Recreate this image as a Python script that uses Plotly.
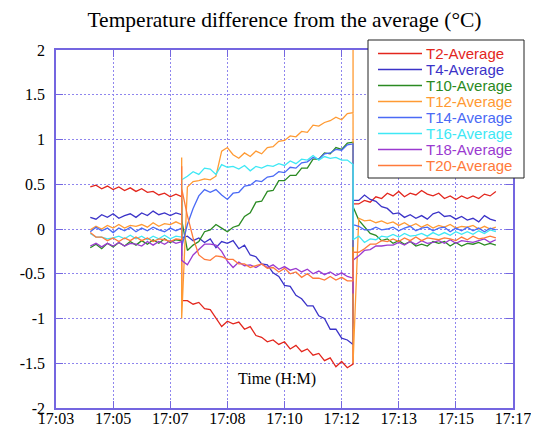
import plotly.graph_objects as go

# time axis in seconds after 17:03 (repeated points mark the two vertical jumps)
t_p1 = list(range(60, 221, 10))
t_j1 = [220, 220]
t_p2 = list(range(230, 521, 10))
t_j2 = [520, 520]
t_p3 = list(range(530, 771, 10))
t = t_p1 + t_j1 + t_p2 + t_j2 + t_p3

tick_vals = [0, 100, 200, 300, 400, 500, 600, 700, 800]
tick_text = ["17:03", "17:05", "17:07", "17:08", "17:10", "17:12", "17:13", "17:15", "17:17"]

names = ["T2-Average", "T4-Average", "T10-Average", "T12-Average",
         "T14-Average", "T16-Average", "T18-Average", "T20-Average"]
colors = ["#e3261d", "#3b33c8", "#2a8a22", "#ff9a33",
          "#4a6af5", "#3ee8f5", "#9a3ad0", "#ff7a3a"]

T2_p1 = [0.47,0.49,0.45,0.48,0.44,0.47,0.43,0.46,0.42,0.45,0.41,0.42,0.38,0.40,0.36,0.39,0.36]
T2_j1 = [-0.78,-0.80]
T2_p2 = [-0.80,-0.84,-0.82,-0.89,-0.90,-1.00,-1.09,-1.03,-1.06,-1.04,-1.12,-1.09,-1.19,-1.21,-1.26,
         -1.24,-1.29,-1.26,-1.34,-1.30,-1.37,-1.34,-1.41,-1.39,-1.47,-1.44,-1.54,-1.48,-1.55,-1.51]
T2_j2 = [0.30,0.28]
T2_p3 = [0.28,0.32,0.30,0.36,0.34,0.40,0.37,0.42,0.36,0.40,0.38,0.43,0.39,0.37,0.40,0.34,0.37,0.33,
         0.37,0.34,0.37,0.34,0.39,0.37,0.42]

T4_p1 = [0.13,0.11,0.16,0.13,0.17,0.12,0.15,0.17,0.13,0.18,0.15,0.20,0.16,0.18,0.15,0.18,0.16]
T4_j1 = [0.05,-0.10]
T4_p2 = [-0.08,-0.13,-0.10,-0.15,-0.11,-0.21,-0.14,-0.16,-0.13,-0.22,-0.18,-0.29,-0.31,-0.39,-0.40,
         -0.49,-0.53,-0.63,-0.64,-0.74,-0.78,-0.86,-0.86,-0.97,-1.00,-1.12,-1.12,-1.22,-1.24,-1.29]
T4_j2 = [0.30,0.32]
T4_p3 = [0.32,0.38,0.33,0.31,0.25,0.23,0.17,0.18,0.13,0.16,0.12,0.15,0.11,0.17,0.19,0.14,0.15,0.11,
         0.14,0.10,0.12,0.08,0.15,0.11,0.09]

T10_p1 = [-0.21,-0.17,-0.22,-0.16,-0.20,-0.15,-0.19,-0.14,-0.18,-0.13,-0.17,-0.12,-0.16,-0.11,-0.15,-0.12,-0.13]
T10_j1 = [0.32,0.10]
T10_p2 = [-0.24,-0.18,-0.14,-0.03,-0.01,0.05,0.01,-0.03,0.02,0.04,0.14,0.18,0.30,0.31,0.42,
          0.43,0.54,0.54,0.60,0.60,0.68,0.68,0.78,0.78,0.85,0.84,0.91,0.89,0.96,0.97]
T10_j2 = [-0.38,0.25]
T10_p3 = [0.10,0.03,-0.05,-0.07,-0.13,-0.11,-0.16,-0.13,-0.17,-0.14,-0.19,-0.17,-0.19,-0.14,-0.16,
          -0.14,-0.19,-0.15,-0.19,-0.16,-0.17,-0.15,-0.18,-0.16,-0.18]

T12_p1 = [-0.01,0.03,0.00,0.04,0.01,0.05,0.01,0.04,0.03,0.05,0.02,0.07,0.03,0.06,0.05,0.08,0.05]
T12_j1 = [0.80,-1.00]
T12_p2 = [0.47,0.53,0.54,0.56,0.55,0.59,0.87,0.91,0.83,0.79,0.85,0.81,0.87,0.84,0.91,
          0.92,0.98,0.99,1.04,1.03,1.09,1.08,1.16,1.15,1.19,1.21,1.25,1.22,1.29,1.30]
T12_j2 = [2.00,-1.50]
T12_p3 = [0.12,0.09,0.10,0.07,0.09,0.06,0.08,0.04,0.07,0.03,0.06,0.02,0.05,0.01,0.04,0.02,0.05,0.01,
          0.03,0.02,0.04,0.00,0.03,0.00,0.02]

T14_p1 = [-0.03,0.02,-0.02,0.01,-0.04,0.01,-0.02,0.02,-0.03,0.01,-0.02,0.02,-0.01,-0.03,0.01,-0.02,0.01]
T14_j1 = [-0.30,-0.20]
T14_p2 = [0.05,0.23,0.37,0.44,0.41,0.44,0.38,0.33,0.40,0.41,0.48,0.49,0.54,0.53,0.58,
          0.59,0.64,0.63,0.69,0.68,0.74,0.75,0.80,0.78,0.84,0.85,0.89,0.88,0.94,0.95]
T14_j2 = [-0.20,0.05]
T14_p3 = [0.03,-0.01,-0.01,0.02,-0.01,0.00,0.02,-0.02,0.01,0.03,-0.02,0.01,0.02,-0.02,0.01,0.02,-0.03,
          0.01,-0.02,0.02,-0.02,0.01,-0.03,0.01,-0.01]

T16_p1 = [-0.05,-0.09,-0.09,-0.11,-0.10,-0.08,-0.11,-0.07,-0.11,-0.08,-0.12,-0.08,-0.11,-0.07,-0.11,-0.08,-0.09]
T16_j1 = [0.20,0.55]
T16_p2 = [0.59,0.64,0.61,0.68,0.67,0.61,0.72,0.69,0.70,0.67,0.71,0.65,0.70,0.68,0.71,
          0.70,0.73,0.71,0.76,0.73,0.78,0.77,0.82,0.77,0.81,0.79,0.80,0.77,0.77,0.72]
T16_j2 = [0.00,-0.12]
T16_p3 = [-0.08,-0.15,-0.11,-0.12,-0.08,-0.09,-0.06,-0.09,-0.05,-0.08,-0.07,-0.05,-0.08,-0.04,-0.07,
          -0.04,-0.07,-0.03,-0.06,-0.03,-0.06,-0.02,-0.05,-0.01,-0.03]

T18_p1 = [-0.19,-0.16,-0.20,-0.16,-0.19,-0.15,-0.19,-0.16,-0.17,-0.19,-0.14,-0.18,-0.14,-0.17,-0.13,-0.16,-0.14]
T18_j1 = [-0.25,-0.35]
T18_p2 = [-0.40,-0.29,-0.23,-0.17,-0.17,-0.18,-0.25,-0.36,-0.43,-0.37,-0.41,-0.40,-0.43,-0.39,-0.43,
          -0.40,-0.45,-0.42,-0.46,-0.44,-0.48,-0.45,-0.50,-0.47,-0.51,-0.48,-0.52,-0.49,-0.53,-0.55]
T18_j2 = [-0.72,-0.35]
T18_p3 = [-0.30,-0.24,-0.23,-0.19,-0.19,-0.18,-0.18,-0.15,-0.18,-0.14,-0.17,-0.13,-0.16,-0.15,-0.13,
          -0.16,-0.12,-0.16,-0.13,-0.14,-0.15,-0.13,-0.11,-0.15,-0.12]

T20_p1 = [-0.04,-0.09,-0.09,-0.13,-0.10,-0.14,-0.10,-0.13,-0.09,-0.13,-0.10,-0.14,-0.11,-0.12,-0.14,-0.11,-0.12]
T20_j1 = [0.70,0.45]
T20_p2 = [0.15,-0.10,-0.29,-0.34,-0.35,-0.30,-0.31,-0.34,-0.34,-0.39,-0.39,-0.43,-0.41,-0.39,-0.44,
          -0.43,-0.48,-0.44,-0.50,-0.48,-0.54,-0.50,-0.55,-0.55,-0.57,-0.53,-0.57,-0.54,-0.58,-0.58]
T20_j2 = [-0.40,-0.26]
T20_p3 = [-0.26,-0.22,-0.17,-0.17,-0.13,-0.14,-0.11,-0.14,-0.10,-0.13,-0.09,-0.13,-0.10,-0.11,-0.12,
          -0.10,-0.11,-0.13,-0.09,-0.12,-0.08,-0.11,-0.10,-0.08,-0.10]

segments = {
    "T2": (T2_p1, T2_j1, T2_p2, T2_j2, T2_p3),
    "T4": (T4_p1, T4_j1, T4_p2, T4_j2, T4_p3),
    "T10": (T10_p1, T10_j1, T10_p2, T10_j2, T10_p3),
    "T12": (T12_p1, T12_j1, T12_p2, T12_j2, T12_p3),
    "T14": (T14_p1, T14_j1, T14_p2, T14_j2, T14_p3),
    "T16": (T16_p1, T16_j1, T16_p2, T16_j2, T16_p3),
    "T18": (T18_p1, T18_j1, T18_p2, T18_j2, T18_p3),
    "T20": (T20_p1, T20_j1, T20_p2, T20_j2, T20_p3),
}
tsegs = (t_p1, t_j1, t_p2, t_j2, t_p3)
series = []
for key, segs in segments.items():
    for i, (a, b) in enumerate(zip(segs, tsegs)):
        assert len(a) == len(b), (key, i, len(a), len(b))
    series.append(sum(segs, []))

fig = go.Figure()
for name, col, vals in zip(names, colors, series):
    fig.add_trace(go.Scatter(
        x=t, y=vals, mode="lines", name=name, showlegend=False,
        line=dict(color=col, width=1.3),
    ))

axis_col = "#7466e0"
grid_col = "#8f86ee"
serif = "Liberation Serif, Times New Roman, serif"
sans = "Liberation Sans, Arial, sans-serif"

# page has an 8px body margin: figure is 8px smaller and margins shifted accordingly
W, H = 531, 419
ML, MR, MT, MB = 48, 26, 42, 19
PW = W - ML - MR
PH = H - MT - MB


def px_x(px):
    return (px - 8 - ML) / PW


def px_y(py):
    return (H - MB - (py - 8)) / PH


shapes = [dict(type="rect", xref="paper", yref="paper",
               x0=px_x(368), x1=px_x(524), y0=px_y(178), y1=px_y(40),
               fillcolor="white", line=dict(color="#222222", width=1), layer="above")]
annotations = [dict(text="Time (H:M)", xref="paper", yref="paper",
                    x=px_x(277), y=px_y(390), showarrow=False, bgcolor="white",
                    font=dict(family=serif, size=16, color="black"))]
for i, (name, col) in enumerate(zip(names, colors)):
    yy = px_y(53.5 + 16 * i)
    shapes.append(dict(type="line", xref="paper", yref="paper",
                       x0=px_x(378), x1=px_x(422), y0=yy, y1=yy,
                       line=dict(color=col, width=1.3), layer="above"))
    annotations.append(dict(text=name, xref="paper", yref="paper",
                            x=px_x(424), y=yy, xanchor="left", yanchor="middle",
                            showarrow=False,
                            font=dict(family=sans, size=15, color=col)))

fig.update_layout(
    width=W, height=H,
    margin=dict(l=ML, r=MR, t=MT, b=MB),
    paper_bgcolor="white", plot_bgcolor="white",
    title=dict(text="Temperature difference from the average (°C)",
               x=0.5, xref="paper", y=1 - 11 / H, yanchor="middle",
               font=dict(family=serif, size=21.5, color="black")),
    showlegend=False,
    xaxis=dict(range=[0, 800], tickvals=tick_vals, ticktext=tick_text,
               showgrid=True, gridcolor=grid_col, griddash="2px,2px", gridwidth=1,
               showline=True, linecolor=axis_col, linewidth=1.5, mirror="ticks",
               ticks="inside", ticklen=7, tickcolor=axis_col, tickwidth=1,
               tickfont=dict(family=serif, size=16, color="black"),
               ticklabelstandoff=-5,
               zeroline=False, automargin=False),
    yaxis=dict(range=[-2, 2], tickvals=[-2, -1.5, -1, -0.5, 0, 0.5, 1, 1.5, 2],
               ticktext=["-2", "-1.5", "-1", "-0.5", "0", "0.5", "1", "1.5", "2"],
               showgrid=True, gridcolor=grid_col, griddash="2px,2px", gridwidth=1,
               showline=True, linecolor=axis_col, linewidth=1.5, mirror="ticks",
               ticks="inside", ticklen=7, tickcolor=axis_col, tickwidth=1,
               tickfont=dict(family=serif, size=16, color="black"),
               ticklabelstandoff=6,
               zeroline=False, automargin=False),
    shapes=shapes,
    annotations=annotations,
)

fig.write_html("out.html")
